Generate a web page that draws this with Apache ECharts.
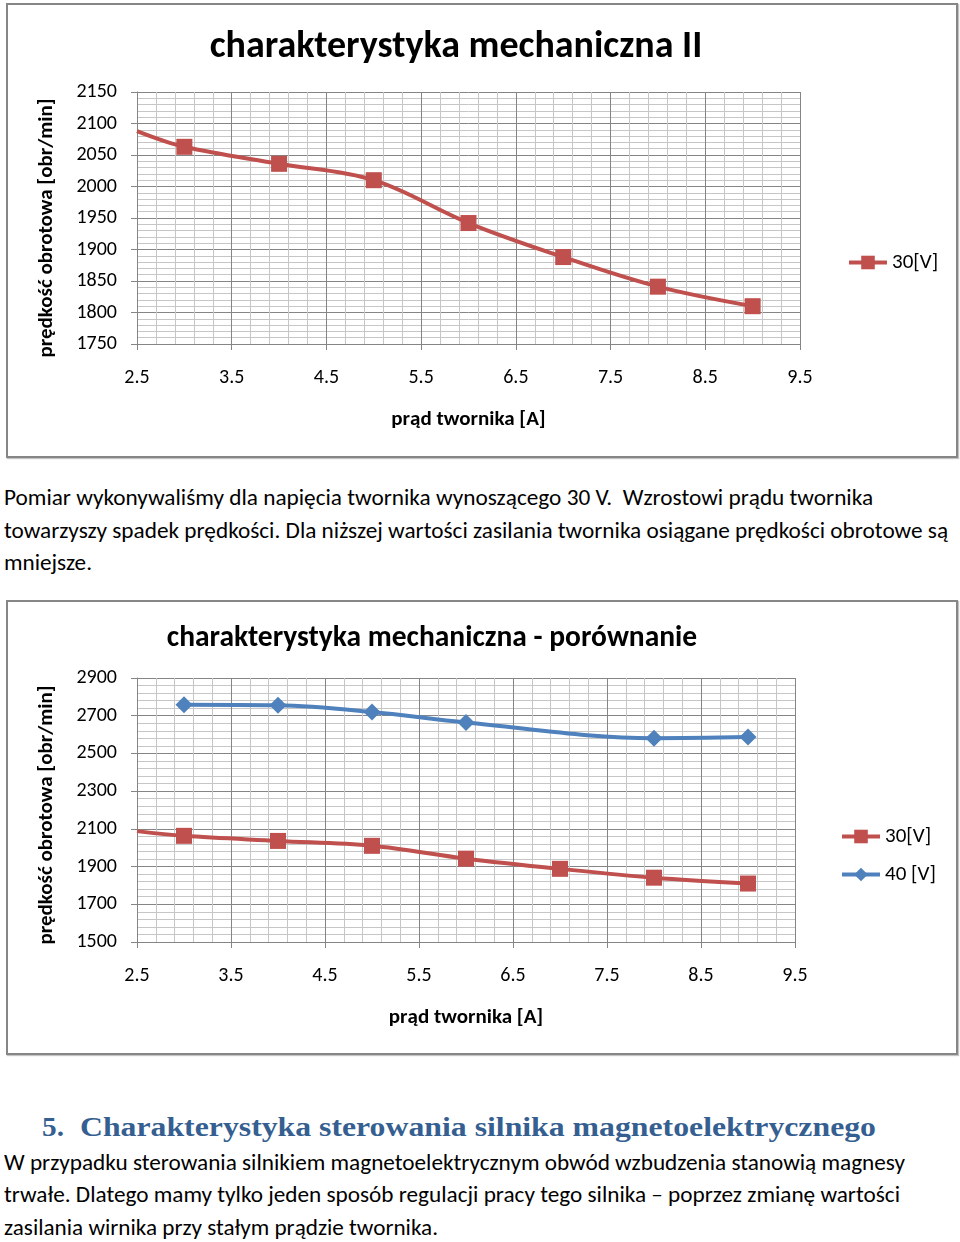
<!DOCTYPE html>
<html><head><meta charset="utf-8">
<script src="https://cdn.jsdelivr.net/npm/echarts@6/dist/echarts.min.js"></script>
<style>
html,body{margin:0;padding:0;background:#fff;width:960px;height:1242px;overflow:hidden;}
.box{position:absolute;box-sizing:border-box;border:2px solid #868686;box-shadow:1px 1px 1px #c4c4c4;background:#fff;}
.line{position:absolute;white-space:nowrap;font-family:Carlito,Lato,'Open Sans',sans-serif;font-size:22px;color:#000;transform-origin:0 50%;line-height:1;}
.head{font-family:'Liberation Serif','DejaVu Serif',serif;font-weight:bold;font-size:27px;color:#365F91;}
</style></head>
<body>
<div id="c1" class="box" style="left:6px;top:3px;width:952px;height:455px"></div>
<div id="c2" class="box" style="left:6px;top:600px;width:952px;height:455px"></div>

<div class="line" data-w="869" style="left:4px;top:487px">Pomiar wykonywaliśmy dla napięcia twornika wynoszącego 30 V.&nbsp; Wzrostowi prądu twornika</div>
<div class="line" data-w="944" style="left:4px;top:519.5px">towarzyszy spadek prędkości. Dla niższej wartości zasilania twornika osiągane prędkości obrotowe są</div>
<div class="line" data-w="88" style="left:4px;top:552px">mniejsze.</div>

<div class="line head" data-w="22" style="left:42px;top:1114px">5.</div>
<div class="line head" data-w="796" style="left:80px;top:1114px">Charakterystyka sterowania silnika magnetoelektrycznego</div>

<div class="line" data-w="901" style="left:4px;top:1151.5px">W przypadku sterowania silnikiem magnetoelektrycznym obwód wzbudzenia stanowią magnesy</div>
<div class="line" data-w="896" style="left:4px;top:1184px">trwałe. Dlatego mamy tylko jeden sposób regulacji pracy tego silnika – poprzez zmianę wartości</div>
<div class="line" data-w="434" style="left:4px;top:1216.5px">zasilania wirnika przy stałym prądzie twornika.</div>

<script>
// ---- data ----
const current30 = [2.5, 3, 4, 5, 6, 7, 8, 9];
const speed30   = [2088, 2063, 2036, 2010, 1942, 1888, 1841, 1810];
const current40 = [3, 4, 5, 6, 8, 9];
const speed40   = [2758, 2755, 2720, 2664, 2581, 2587];
const xTickLabels  = ['2.5', '3.5', '4.5', '5.5', '6.5', '7.5', '8.5', '9.5'];
const yTickLabels1 = ['1750', '1800', '1850', '1900', '1950', '2000', '2050', '2100', '2150'];
const yTickLabels2 = ['1500', '1700', '1900', '2100', '2300', '2500', '2700', '2900'];
const seriesNames = ['30[V]', '40 [V]'];

const FONT = "Carlito, Lato, 'Open Sans', sans-serif";
const RED = '#C0504D', BLUE = '#4F81BD';
const MAJ = '#858585', MIN = '#c6c6c6';

function displayAxis(labels, extra) {
  return Object.assign({
    type: 'value', min: 0, max: labels.length - 1, interval: 1,
    axisLine: { show: true, lineStyle: { color: MAJ, width: 1 } },
    axisTick: { show: true, length: 6, lineStyle: { color: MAJ } },
    splitLine: { show: true, lineStyle: { color: MAJ, width: 1 } },
    minorTick: { show: false, splitNumber: 5 },
    minorSplitLine: { show: true, lineStyle: { color: MIN, width: 1 } },
    nameLocation: 'middle',
    nameTextStyle: { fontSize: 21, fontWeight: 'bold', color: '#000', fontFamily: FONT }
  }, extra);
}
function pts(xs, ys, hideFirst) {
  return xs.map((x, i) => (hideFirst && i === 0) ? { value: [x, ys[i]], symbol: 'none' } : [x, ys[i]]);
}
const redSeries = (name) => ({
  type: 'line', name: name, xAxisIndex: 0, yAxisIndex: 0, data: pts(current30, speed30, true),
  smooth: 0.35, symbol: 'rect', symbolSize: 16, clip: true,
  lineStyle: { color: RED, width: 4 }, itemStyle: { color: RED }
});
const blueSeries = (name) => ({
  type: 'line', name: name, xAxisIndex: 0, yAxisIndex: 0, data: pts(current40, speed40, false),
  smooth: 0.35, symbol: 'diamond', symbolSize: 17, clip: true,
  lineStyle: { color: BLUE, width: 4 }, itemStyle: { color: BLUE }
});
const legendBase = {
  padding: 0, itemWidth: 38, itemHeight: 17,
  lineStyle: { width: 4 },
  textStyle: { fontSize: 21, color: '#000', fontFamily: FONT }
};
const xLabel = { formatter: v => xTickLabels[Math.round(v)], fontSize: 20, color: '#000', fontFamily: FONT, margin: 24 };
const yName = (pad) => ({ fontSize: 21, fontWeight: 'bold', color: '#000', fontFamily: FONT, padding: [0, pad, 0, 0] });

// ---- chart 1 ----
const c1 = echarts.init(document.getElementById('c1'), null, { renderer: 'canvas' });
c1.setOption({
  animation: false,
  title: { text: 'charakterystyka mechaniczna II', left: 448, top: 23, textAlign: 'center', padding: 0,
    textStyle: { fontSize: 38, fontWeight: 'bold', color: '#000', fontFamily: FONT } },
  grid: { left: 129, top: 87, width: 663, height: 252, containLabel: false, outerBoundsMode: 'none' },
  legend: Object.assign({}, legendBase, { left: 839, top: 247, data: [seriesNames[0]] }),
  xAxis: [
    { type: 'value', min: 2.5, max: 9.5, show: false, position: 'top' },
    displayAxis(xTickLabels, { position: 'bottom', name: 'prąd twornika [A]', nameGap: 65, axisLabel: xLabel })
  ],
  yAxis: [
    { type: 'value', min: 1750, max: 2150, show: false, position: 'right' },
    displayAxis(yTickLabels1, { position: 'left', name: 'prędkość obrotowa [obr/min]', nameGap: 80,
      nameTextStyle: yName(20),
      axisLabel: { formatter: v => yTickLabels1[Math.round(v)], fontSize: 20, color: '#000', fontFamily: FONT, margin: 20 } })
  ],
  series: [redSeries(seriesNames[0])]
});

// ---- chart 2 ----
const c2 = echarts.init(document.getElementById('c2'), null, { renderer: 'canvas' });
c2.setOption({
  animation: false,
  title: { text: 'charakterystyka mechaniczna - porównanie', left: 424, top: 22, textAlign: 'center', padding: 0,
    textStyle: { fontSize: 29.5, fontWeight: 'bold', color: '#000', fontFamily: FONT } },
  grid: { left: 129, top: 76, width: 658, height: 264, containLabel: false, outerBoundsMode: 'none' },
  legend: Object.assign({}, legendBase, { orient: 'vertical', left: 832, top: 224, itemGap: 17, data: seriesNames }),
  xAxis: [
    { type: 'value', min: 2.5, max: 9.5, show: false, position: 'top' },
    displayAxis(xTickLabels, { position: 'bottom', name: 'prąd twornika [A]', nameGap: 65, axisLabel: xLabel })
  ],
  yAxis: [
    { type: 'value', min: 1500, max: 2900, show: false, position: 'right' },
    displayAxis(yTickLabels2, { position: 'left', name: 'prędkość obrotowa [obr/min]', nameGap: 80,
      nameTextStyle: yName(10),
      axisLabel: { formatter: v => yTickLabels2[Math.round(v)], fontSize: 20, color: '#000', fontFamily: FONT, margin: 20 } })
  ],
  series: [redSeries(seriesNames[0]), blueSeries(seriesNames[1])]
});

// fit paragraph lines to the reference widths
function fitLines() {
  document.querySelectorAll('.line[data-w]').forEach(el => {
    el.style.transform = 'none';
    const w = el.getBoundingClientRect().width;
    const t = parseFloat(el.getAttribute('data-w'));
    if (w > 0) el.style.transform = 'scaleX(' + (t / w).toFixed(4) + ')';
  });
}
fitLines();
if (document.fonts && document.fonts.ready) document.fonts.ready.then(fitLines);
</script>
</body></html>
